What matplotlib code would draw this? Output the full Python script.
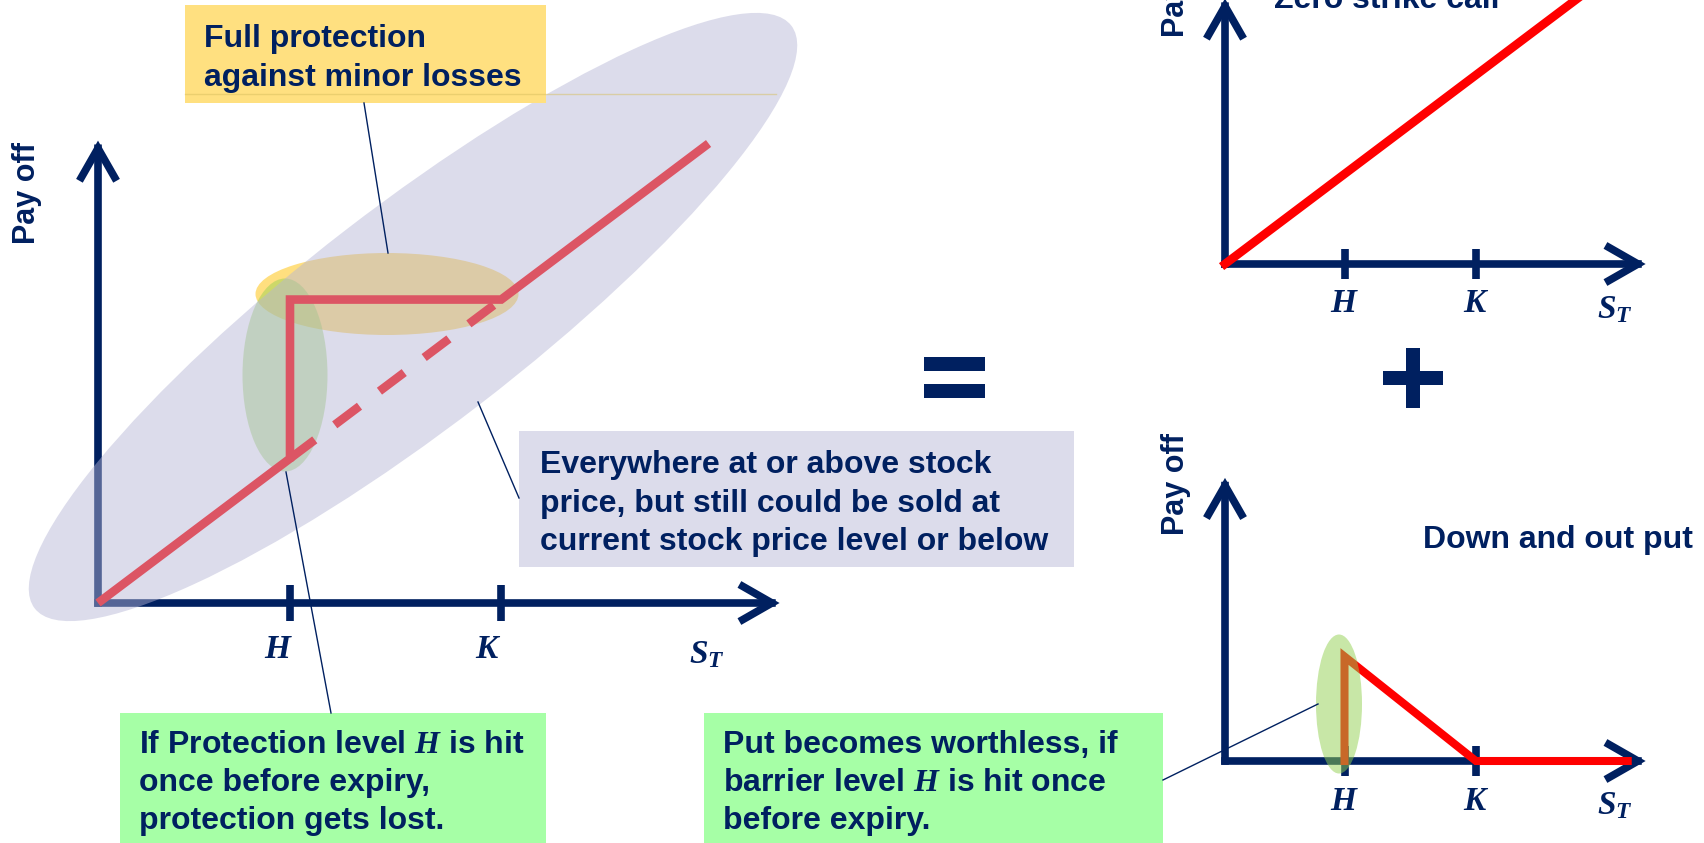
import matplotlib
matplotlib.use('Agg')
import matplotlib.pyplot as plt
import matplotlib.transforms as mtransforms
from matplotlib.patches import Ellipse, Rectangle
from matplotlib.lines import Line2D

# ---- data (price units, origin = 0) ----
barrier_H = 1.0
strike_K = 2.1
tick_pos = [barrier_H, strike_K]
tick_labels = ['$H$', '$K$']
x_label = '$S_T$'
y_label = 'Pay off'

# capital protected certificate (left)
cert_x = [0.0, 1.0, 1.0, 2.1, 3.18]
cert_y = [0.0, 1.0, 2.1, 2.1, 3.18]
cert_dash_x = [1.0, 2.1]
cert_dash_y = [1.0, 2.1]

# zero strike call (top right)
call_title = 'Zero strike call'
call_x = [0.0, 3.1]
call_y = [0.0, 3.1]

# down and out put (bottom right)
put_title = 'Down and out put'
put_x = [1.0, 1.0, 2.1, 3.37]
put_y = [0.0, 1.1, 0.0, 0.0]

note_full = ['Full protection', 'against minor losses']
note_above = ['Everywhere at or above stock',
              'price, but still could be sold at',
              'current stock price level or below']
note_lost = ['If Protection level $H$ is hit', 'once before expiry,',
             'protection gets lost.']
note_put = ['Put becomes worthless, if', 'barrier level $H$ is hit once',
            'before expiry.']

navy = '#002060'
red = '#ff0000'

plt.rcParams['font.family'] = ['Liberation Sans', 'DejaVu Sans']
plt.rcParams['mathtext.fontset'] = 'custom'
plt.rcParams['mathtext.it'] = 'Liberation Serif:italic:bold'
plt.rcParams['mathtext.rm'] = 'Liberation Serif:bold'
plt.rcParams['mathtext.bf'] = 'Liberation Serif:italic:bold'

W, HP = 1704, 843
fig = plt.figure(figsize=(W / 100, HP / 100), dpi=100)
# pixel coords, origin top-left
px = mtransforms.Affine2D().scale(1 / W, -1 / HP).translate(0, 1) + fig.transFigure

arrow_kw = dict(arrowstyle='->,head_length=2.1,head_width=1.2', lw=5.5, color=navy,
                shrinkA=0, shrinkB=0, mutation_scale=10,
                capstyle='projecting', joinstyle='miter')


def payoff_axes(ox, oy, sx, sy, xmax, ymax, tick_h, lab_dy, st_x, st_dy, lab_dx):
    ax = fig.add_axes([ox / W, (HP - oy) / HP, xmax * sx / W, ymax * sy / HP])
    ax.set_xlim(0, xmax)
    ax.set_ylim(0, ymax)
    ax.axis('off')
    ax.annotate('', xy=(xmax, 0), xytext=(0, 0), arrowprops=arrow_kw,
                annotation_clip=False)
    ax.annotate('', xy=(0, ymax), xytext=(0, 0), arrowprops=arrow_kw,
                annotation_clip=False)
    for t, lab, dx in zip(tick_pos, tick_labels, lab_dx):
        ax.plot([t, t], [-tick_h, tick_h], color=navy, lw=5.5,
                solid_capstyle='butt', clip_on=False)
        ax.text(t + dx, -lab_dy, lab, ha='center', va='center',
                fontsize=24, color=navy)
    ax.text(st_x, -st_dy, x_label, ha='center', va='center', fontsize=24,
            color=navy)
    return ax


# ---- left: certificate ----
axL = payoff_axes(98, 603, 192, 144.5, 3.55, 3.2, 0.128, 0.32, 3.17, 0.36,
                  [-0.06, -0.07])
axL.plot(cert_x, cert_y, color=red, lw=6.2, solid_joinstyle='miter',
         solid_capstyle='butt', clip_on=False, zorder=3)
axL.plot(cert_dash_x, cert_dash_y, color=red, lw=6.2,
         linestyle=(0, (3.6, 2.9)), dash_capstyle='butt', clip_on=False, zorder=3)
axL.text(-0.37, 2.84, y_label, rotation=90, ha='center', va='center',
         fontsize=22, fontweight='bold', color=navy)

# ---- top right: zero strike call ----
axC = payoff_axes(1225, 264, 119.5, 90, 3.52, 2.95, 0.17, 0.44, 3.26, 0.51,
                  [0.0, 0.0])
axC.plot(call_x, call_y, color=red, lw=6.2, clip_on=False, zorder=3)
axC.text(-0.41, 3.09, y_label, rotation=90, ha='center', va='center',
         fontsize=22, fontweight='bold', color=navy)
axC.text(1.35, 2.84, call_title, ha='center', va='baseline', fontsize=23,
         fontweight='bold', color=navy)

# ---- bottom right: down and out put ----
axP = payoff_axes(1225, 761, 119.5, 95, 3.52, 2.98, 0.16, 0.43, 3.26, 0.47,
                  [0.0, 0.0])
axP.plot(put_x, put_y, color=red, lw=5.8, solid_joinstyle='miter',
         clip_on=False, zorder=3)
axP.text(-0.41, 2.92, y_label, rotation=90, ha='center', va='center',
         fontsize=22, fontweight='bold', color=navy)
axP.text(2.79, 2.33, put_title, ha='center', va='center', fontsize=23,
         fontweight='bold', color=navy)

# ---- highlight ellipses ----
fig.add_artist(Ellipse((387, 294), 263, 82, facecolor='#ffc000', alpha=0.5,
                       edgecolor='none', transform=px, zorder=-1))
fig.add_artist(Ellipse((285, 375), 85, 193, facecolor='#92d050', alpha=0.45,
                       edgecolor='none', transform=px, zorder=-1))
fig.add_artist(Ellipse((413, 317), 955, 220, angle=-37.6, facecolor='#b5b5d5',
                       alpha=0.47, edgecolor='none', transform=px, zorder=1))
fig.add_artist(Ellipse((1339, 704), 46, 139, facecolor='#92d050', alpha=0.5,
                       edgecolor='none', transform=px, zorder=1))

# ---- note boxes ----
boxes = [((185, 5, 361, 98), '#ffe080', note_full, 204, [47, 86]),
         ((519, 431, 555, 136), '#dcdceb', note_above, 540, [473, 512, 550]),
         ((120, 713, 426, 140), '#a6ffa6', note_lost, 139, [753, 791, 829]),
         ((704, 713, 459, 140), '#a6ffa6', note_put, 723, [753, 791, 829])]
for (bx, by, bw, bh), col, lines, tx, bases in boxes:
    fig.add_artist(Rectangle((bx, by), bw, bh, facecolor=col, edgecolor='none',
                             transform=px, zorder=2))
    for s, b in zip(lines, bases):
        fig.text(tx, b, s, transform=px, ha='left', va='baseline', fontsize=23,
                 fontweight='bold', color=navy, zorder=4)

fig.add_artist(Line2D([185, 776], [94, 94], color='#d8c060', alpha=0.5, lw=1,
                      transform=px, zorder=3))

# connector lines
for (x0, y0), (x1, y1) in [((364, 103), (388, 253)), ((519, 498), (478, 402)),
                           ((331, 713), (286, 472)), ((1163, 780), (1318, 704))]:
    fig.add_artist(Line2D([x0, x1], [y0, y1], color=navy, lw=1.0,
                          transform=px, zorder=3))

# "=" and "+"
for r in [(924, 357, 61, 14), (924, 384, 61, 14),
          (1383, 371, 60, 14), (1406, 348, 14, 60)]:
    fig.add_artist(Rectangle(r[:2], r[2], r[3], facecolor=navy, edgecolor='none',
                             transform=px, zorder=2))

fig.savefig('out.png', dpi=100)
